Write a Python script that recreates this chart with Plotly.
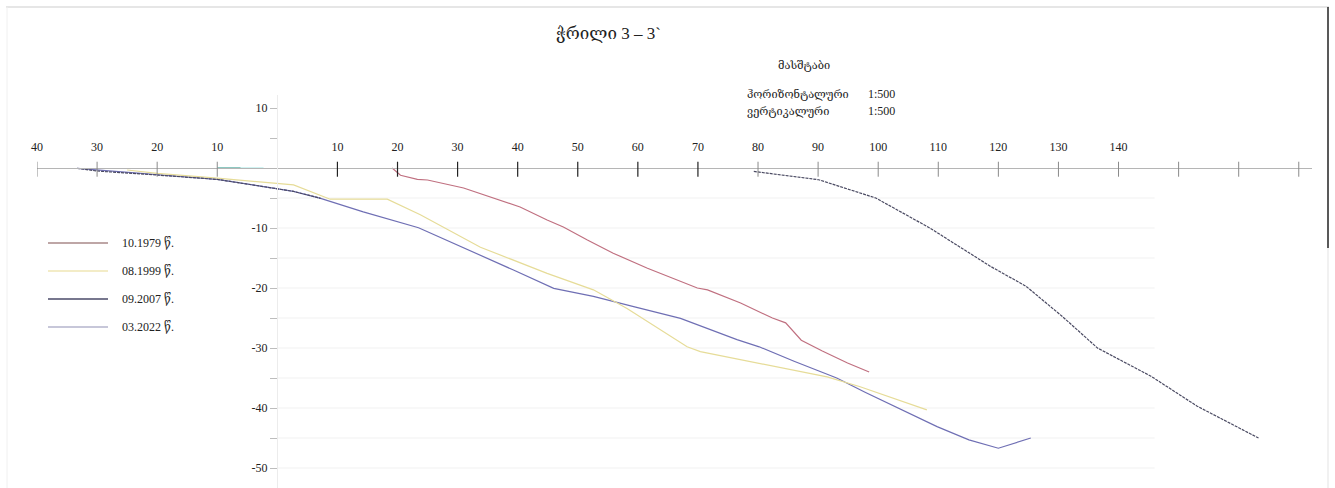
import plotly.graph_objects as go

# ---------------- data (distance m, elevation m) ----------------
dist_1979 = [19.1, 20.5, 23.3, 25.0, 31.0, 37.1, 40.4, 44.9, 47.6, 51.6, 55.9, 61.6, 65.4,
             69.9, 71.6, 77.1, 82.4, 84.6, 87.2, 90.7, 94.9, 98.5]
elev_1979 = [0.0, -1.2, -1.9, -2.0, -3.33, -5.33, -6.5, -8.67, -9.83, -12.0, -14.2, -16.7, -18.2,
             -20.0, -20.3, -22.5, -25.0, -25.8, -28.7, -30.5, -32.5, -34.0]

dist_1999 = [-25.0, -20.0, -10.0, -2.3, 2.7, 8.8, 18.3, 23.8, 33.8, 44.9, 52.6, 58.2, 63.7,
             68.2, 70.4, 80.4, 91.5, 97.0, 108.1]
elev_1999 = [-0.33, -0.9, -1.7, -2.4, -2.8, -5.2, -5.2, -7.8, -13.2, -17.55, -20.3, -23.4, -27.0,
             -29.8, -30.6, -32.55, -34.8, -36.45, -40.3]

dist_2007 = [-33.3, -30.0, -20.0, -10.0, -2.3, 2.7, 7.2, None,
             79.3, 90.1, 99.6, 108.6, 118.7, 124.6, 130.6, 136.5, 145.4, 153.1, 163.3]
elev_2007 = [-0.05, -0.5, -1.17, -1.9, -3.1, -3.9, -5.05, None,
             -0.57, -1.95, -5.0, -10.0, -16.4, -19.7, -24.7, -30.0, -34.7, -39.7, -45.0]

dist_2022 = [-33.3, -20.0, -10.0, -2.3, 2.7, 7.2, 14.3, 23.5, 30.0, 39.3, 46.0, 52.6, 59.3,
             67.1, 76.5, 80.2, 86.0, 93.1, 97.9, 103.8, 109.8, 115.1, 120.0, 125.4]
elev_2022 = [-0.05, -1.15, -1.9, -3.1, -3.9, -5.05, -7.3, -9.95, -12.8, -17.0, -20.05, -21.4, -23.1,
             -25.05, -28.6, -29.8, -32.2, -35.0, -37.4, -40.2, -43.1, -45.3, -46.7, -45.0]

dist_water_a = [-10.0, -6.1]
dist_water_b = [-6.1, -2.3]
elev_water = [0.0, 0.0]

series_names = ["10.1979 წ.", "08.1999 წ.", "09.2007 წ.", "03.2022 წ."]
series_colors = ["#c07080", "#e6dc98", "#4a4a62", "#6f6fb4"]
legend_colors = ["#a88888", "#efe6b4", "#4a4a68", "#b4b4cc"]

x_tick_vals = [-40, -30, -20, -10, 10, 20, 30, 40, 50, 60, 70, 80, 90, 100, 110, 120, 130, 140]
x_tick_text = ["40", "30", "20", "10", "10", "20", "30", "40", "50", "60", "70", "80", "90",
               "100", "110", "120", "130", "140"]
x_marks_dark = [10, 20, 30, 40, 50, 60, 70]
x_marks_light = [-40, -30, -20, -10, 80, 90, 100, 110, 120, 130, 140, 150, 160, 170]

y_tick_vals = [10, 5, -5, -10, -15, -20, -25, -30, -35, -40, -45, -50]
y_tick_text = ["10", "", "", "-10", "", "-20", "", "-30", "", "-40", "", "-50"]
grid_levels = [-5, -10, -15, -20, -25, -30, -35, -40, -45, -50]

title_text = "ჭრილი 3 – 3`"
scale_title = "მასშტაბი"
scale_rows = [("ჰორიზონტალური", "1:500"), ("ვერტიკალური", "1:500")]

# ---------------- layout geometry ----------------
W, H = 1335, 488
ML, MR, MT, MB = 37, 23, 95, 0
XR = [-40, 172.2]
YR = [-53.33, 12.17]
PW, PH = W - ML - MR, H - MT - MB


def px_x(p):
    return (p - ML) / PW


def px_y(p):
    return (H - MB - p) / PH


SERIF = "Liberation Serif, Times New Roman, DejaVu Serif, serif"

fig = go.Figure()

shapes = []
for g in grid_levels:
    shapes.append(dict(type="line", xref="x", yref="y", x0=0, x1=146, y0=g, y1=g,
                       line=dict(color="#f1f1f1", width=1), layer="below"))

for t in x_marks_dark:
    shapes.append(dict(type="line", xref="x", yref="y", x0=t, x1=t, y0=1.05, y1=-1.45,
                       line=dict(color="#222222", width=1.2)))
for t in x_marks_light:
    shapes.append(dict(type="line", xref="x", yref="y", x0=t, x1=t, y0=1.05, y1=-1.45,
                       line=dict(color="#8a8a8a", width=1)))

data = [(dist_1979, elev_1979), (dist_1999, elev_1999), (dist_2007, elev_2007), (dist_2022, elev_2022)]
order = [3, 1, 0, 2]
for i in order:
    xs, ys = data[i]
    fig.add_trace(go.Scatter(x=xs, y=ys, mode="lines", name=series_names[i],
                             line=dict(color=series_colors[i], width=1.2,
                                       dash="3px,1px" if i == 2 else "solid"),
                             connectgaps=False, showlegend=False, hoverinfo="skip"))

fig.add_trace(go.Scatter(x=dist_water_a, y=elev_water, mode="lines",
                         line=dict(color="#4aa89c", width=1.3), showlegend=False, hoverinfo="skip"))
fig.add_trace(go.Scatter(x=dist_water_b, y=elev_water, mode="lines",
                         line=dict(color="#b4ecea", width=1.3), showlegend=False, hoverinfo="skip"))

annotations = []
legend_rows_px = [243, 271, 299, 327]
for name, col, py in zip(series_names, legend_colors, legend_rows_px):
    shapes.append(dict(type="line", xref="paper", yref="paper", x0=px_x(48), x1=px_x(108),
                       y0=px_y(py), y1=px_y(py), line=dict(color=col, width=1.5)))
    annotations.append(dict(xref="paper", yref="paper", x=px_x(120), y=px_y(py), text=name,
                            showarrow=False, xanchor="left", yanchor="middle",
                            font=dict(family=SERIF, size=12, color="#222222")))

annotations.append(dict(xref="paper", yref="paper", x=px_x(608), y=px_y(33), text=title_text,
                        showarrow=False, xanchor="center", yanchor="middle",
                        font=dict(family=SERIF, size=17, color="#222222")))
annotations.append(dict(xref="paper", yref="paper", x=px_x(804), y=px_y(65), text=scale_title,
                        showarrow=False, xanchor="center", yanchor="middle",
                        font=dict(family=SERIF, size=11, color="#222222")))
for (lab, val), py in zip(scale_rows, [94, 111]):
    annotations.append(dict(xref="paper", yref="paper", x=px_x(745), y=px_y(py), text=lab,
                            showarrow=False, xanchor="left", yanchor="middle",
                            font=dict(family=SERIF, size=11, color="#222222")))
    annotations.append(dict(xref="paper", yref="paper", x=px_x(866), y=px_y(py), text=val,
                            showarrow=False, xanchor="left", yanchor="middle",
                            font=dict(family=SERIF, size=12, color="#222222")))

shapes.append(dict(type="line", xref="paper", yref="paper", x0=px_x(6), x1=px_x(1329),
                   y0=px_y(7), y1=px_y(7), line=dict(color="#e6e6e6", width=2)))
shapes.append(dict(type="line", xref="paper", yref="paper", x0=px_x(7), x1=px_x(7),
                   y0=px_y(7), y1=px_y(488), line=dict(color="#f0f0f0", width=1)))
shapes.append(dict(type="line", xref="paper", yref="paper", x0=px_x(1328), x1=px_x(1328),
                   y0=px_y(7), y1=px_y(248), line=dict(color="#222222", width=1.5)))
shapes.append(dict(type="line", xref="paper", yref="paper", x0=px_x(1328), x1=px_x(1328),
                   y0=px_y(248), y1=px_y(488), line=dict(color="#ececec", width=1.5)))

fig.update_layout(
    width=W, height=H,
    margin=dict(l=ML, r=MR, t=MT, b=MB, pad=0),
    paper_bgcolor="white", plot_bgcolor="white",
    showlegend=False,
    shapes=shapes, annotations=annotations,
    xaxis=dict(range=XR, anchor="free", position=px_y(168), side="top",
               showline=True, linecolor="#b5b5b5", linewidth=1.3,
               showgrid=False, zeroline=False, ticks="",
               tickmode="array", tickvals=x_tick_vals, ticktext=x_tick_text,
               ticklabelstandoff=12,
               tickfont=dict(family=SERIF, size=12, color="#222222")),
    yaxis=dict(range=YR, anchor="free", position=px_x(277), side="left",
               showline=True, linecolor="#ececec", linewidth=1,
               showgrid=False, zeroline=False, ticks="outside", ticklen=7,
               tickcolor="#bdbdbd", tickwidth=1,
               tickmode="array", tickvals=y_tick_vals, ticktext=y_tick_text,
               tickfont=dict(family=SERIF, size=12, color="#222222")),
)

fig.write_html("out.html", config={"displayModeBar": False},
               post_script="document.body.style.margin='0px';document.body.style.overflow='hidden';")
